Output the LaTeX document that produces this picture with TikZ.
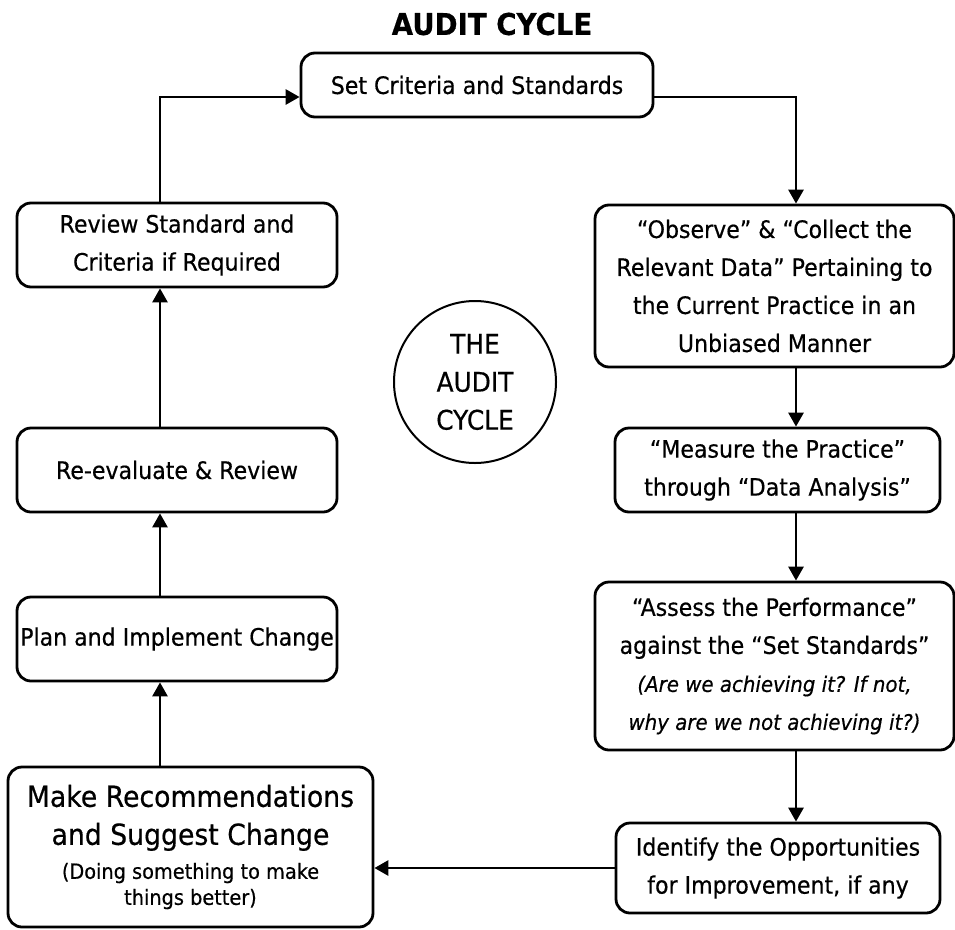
\documentclass[tikz,border=0pt]{standalone}
\usepackage{fontspec}
\setmainfont{DejaVu Sans}[FakeStretch=0.92, FakeBold=0.5]
\usetikzlibrary{arrows.meta}
\newcommand{\bigline}{\fontsize{29}{36}\selectfont}
\newcommand{\smallline}{\fontsize{21}{26}\selectfont}
\newcommand{\noteline}{\itshape\fontsize{21.5}{38}\selectfont}

\begin{document}
\begin{tikzpicture}[x=1pt, y=-1pt,
    stage/.style={draw, line width=2.8pt, rounded corners=14pt, align=center,
      inner sep=0pt, font=\fontsize{24}{38}\selectfont},
    arr/.style={line width=2.8pt, -{Triangle[width=15pt, length=14pt]}}]

  \useasboundingbox (0, 0) rectangle (955, 929);

  \node[font=\fontsize{30}{36}\selectfont\bfseries] (title) at (492, 24) {AUDIT CYCLE};

  \node[stage, minimum width=352, minimum height=64] (set) at (477, 85)
    {Set Criteria and Standards};
  \node[stage, minimum width=359, minimum height=162] (observe) at (774.5, 286)
    {“Observe” \& “Collect the\\ Relevant Data” Pertaining to\\
     the Current Practice in an\\ Unbiased Manner};
  \node[stage, minimum width=325, minimum height=84] (measure) at (777.5, 470)
    {“Measure the Practice”\\ through “Data Analysis”};
  \node[stage, minimum width=359, minimum height=168] (assess) at (774.5, 666)
    {“Assess the Performance”\\ against the “Set Standards”\\
     {\noteline (Are we achieving it? If not,}\\
     {\noteline why are we not achieving it?)}};
  \node[stage, minimum width=324, minimum height=90] (identify) at (778, 868)
    {Identify the Opportunities\\ for Improvement, if any};
  \node[stage, minimum width=365, minimum height=160] (recommend) at (190.5, 847)
    {{\bigline Make Recommendations}\\[0pt] {\bigline and Suggest Change}\\[-4pt]
     {\smallline (Doing something to make}\\[-12pt] {\smallline things better)}};
  \node[stage, minimum width=320, minimum height=84] (plan) at (177, 639)
    {Plan and Implement Change};
  \node[stage, minimum width=320, minimum height=84] (reevaluate) at (177, 470)
    {Re-evaluate \& Review};
  \node[stage, minimum width=320, minimum height=84] (review) at (177, 245)
    {Review Standard and\\ Criteria if Required};

  \node[draw, circle, line width=2pt, minimum size=162, inner sep=0pt, align=center,
    font=\fontsize{27}{38}\selectfont] (cycle) at (475, 382) {THE\\ AUDIT\\ CYCLE};

  % the two lines the arrows run along
  \coordinate (lx) at (160, 0);
  \coordinate (rx) at (796, 0);

  \draw[arr] ([yshift=-12pt]set.east) -| (rx |- observe.north);
  \draw[arr] (observe.south -| rx) -- (measure.north -| rx);
  \draw[arr] (measure.south -| rx) -- (assess.north -| rx);
  \draw[arr] (assess.south -| rx) -- (identify.north -| rx);
  \draw[arr] (identify.west) -- (identify.west -| recommend.east);
  \draw[arr] (recommend.north -| lx) -- (plan.south -| lx);
  \draw[arr] (plan.north -| lx) -- (reevaluate.south -| lx);
  \draw[arr] (reevaluate.north -| lx) -- (review.south -| lx);
  \draw[arr] (review.north -| lx) |- ([yshift=-12pt]set.west);

\end{tikzpicture}
\end{document}
